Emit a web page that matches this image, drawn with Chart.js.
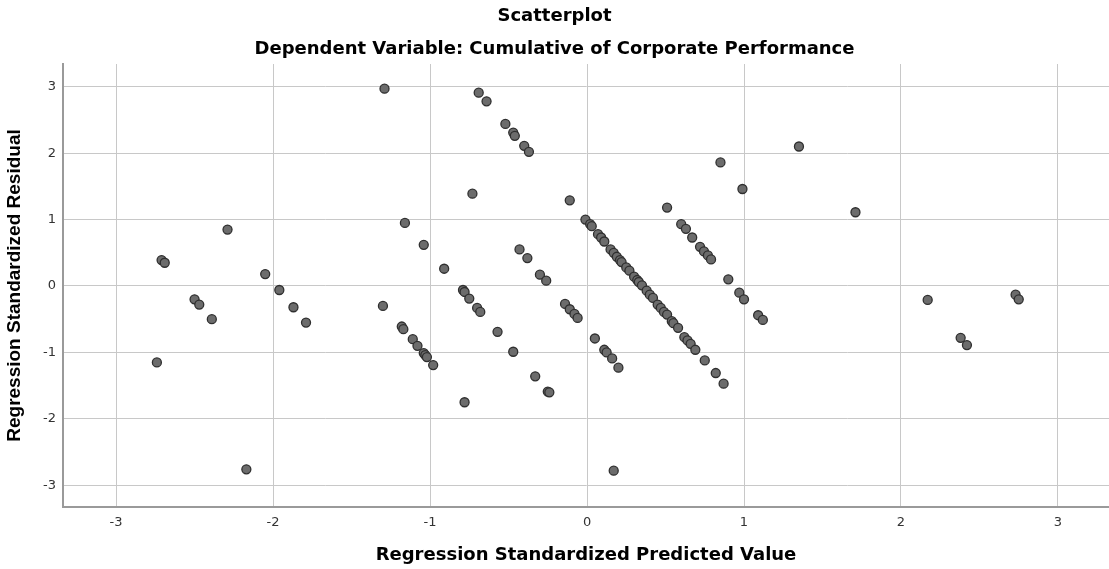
<!DOCTYPE html>
<html>
<head>
<meta charset="utf-8">
<title>Scatterplot</title>
<script src="https://cdn.jsdelivr.net/npm/chart.js@4/dist/chart.umd.min.js"></script>
<style>
    html, body { margin: 0; padding: 0; background: #fff; }
    #wrap { width: 1109px; height: 569px; }
</style>
</head>
<body>
<div id="wrap"><canvas id="scatter" width="1109" height="569"></canvas></div>
<script>
// regression standardized predicted value (x) / standardized residual (y)
const predicted = [
    -2.74, -2.71, -2.69, -2.50, -2.47, -2.39, -2.29, -2.17, -2.05, -1.96,
    -1.87, -1.79, -1.29, -1.30, -1.18, -1.17, -1.16, -1.11, -1.08, -1.04,
    -1.04, -1.03, -1.02, -0.98, -0.91, -0.79, -0.78, -0.78, -0.75, -0.73,
    -0.70, -0.69, -0.68, -0.64, -0.57, -0.52, -0.47, -0.47, -0.46, -0.43,
    -0.40, -0.38, -0.37, -0.33, -0.30, -0.26, -0.25, -0.24, -0.14, -0.11,
    -0.11, -0.08, -0.06,
    -0.01, 0.02, 0.03, 0.05, 0.07, 0.09, 0.11, 0.11, 0.125, 0.15,
    0.16, 0.17, 0.17, 0.19, 0.20, 0.21, 0.22, 0.25, 0.27, 0.30,
    0.32, 0.33, 0.35, 0.38, 0.40, 0.42, 0.45, 0.47, 0.49, 0.51,
    0.51, 0.54, 0.55, 0.58, 0.60, 0.62, 0.63, 0.64, 0.66, 0.67,
    0.69, 0.72, 0.745, 0.75, 0.77, 0.79, 0.82, 0.85, 0.87, 0.90,
    0.97, 0.99, 1.00, 1.09, 1.12, 1.35, 1.71, 2.17, 2.38, 2.42,
    2.73, 2.75
];
const residual = [
    -1.15, 0.39, 0.35, -0.20, -0.28, -0.50, 0.85, -2.76, 0.18, -0.06,
    -0.32, -0.55, 2.97, -0.30, -0.61, -0.65, 0.95, -0.80, -0.90, 0.62,
    -1.01, -1.04, -1.07, -1.19, 0.26, -0.06, -0.09, -1.75, -0.19, 1.39,
    -0.33, 2.91, -0.39, 2.78, -0.69, 2.44, 2.31, -0.99, 2.26, 0.55,
    2.11, 0.42, 2.02, -1.36, 0.17, 0.08, -1.59, -1.60, -0.27, 1.29,
    -0.35, -0.42, -0.48,
    1.00, 0.93, 0.90, -0.79, 0.78, 0.73, 0.67, -0.96, -1.00, 0.55,
    -1.09, 0.50, -2.78, 0.44, -1.23, 0.39, 0.36, 0.28, 0.23, 0.14,
    0.09, 0.06, 0.01, -0.07, -0.13, -0.18, -0.28, -0.33, -0.39, -0.43,
    1.18, -0.53, -0.56, -0.63, 0.93, -0.77, 0.86, -0.82, -0.87, 0.73,
    -0.96, 0.59, 0.52, -1.12, 0.46, 0.40, -1.31, 1.86, -1.47, 0.10,
    -0.10, 1.46, -0.20, -0.44, -0.51, 2.10, 1.11, -0.21, -0.78, -0.89,
    -0.13, -0.20
];
const xRange = [-3.338, 3.325];
const yRange = [-3.327, 3.342];

const titleText    = 'Scatterplot';
const subtitleText = 'Dependent Variable: Cumulative of Corporate Performance';
const xTitle       = 'Regression Standardized Predicted Value';
const yTitle       = 'Regression Standardized Residual';

const points = predicted.map((x, i) => ({ x: x, y: residual[i] }));

const gridColor = '#c8c8c8';
const axisColor = '#9a9a9a';
const tickFont  = { family: 'DejaVu Sans', size: 13 };

new Chart(document.getElementById('scatter').getContext('2d'), {
    type: 'scatter',
    data: {
        datasets: [{
            data: points,
            backgroundColor: '#6c6c6c',
            borderColor: '#2f2f2f',
            borderWidth: 1.3,
            pointRadius: 4.5,
            pointHoverRadius: 4.5,
        }]
    },
    options: {
        responsive: false,
        animation: false,
        devicePixelRatio: 1,
        layout: { padding: 0, autoPadding: false },
        plugins: {
            legend: { display: false },
            tooltip: { enabled: false },
            title: {
                display: true, text: titleText, color: '#000',
                font: { family: 'DejaVu Sans', size: 18, weight: 'bold' },
                padding: { top: 5.5, bottom: 11.1 },
            },
            subtitle: {
                display: true, text: subtitleText, color: '#000',
                font: { family: 'DejaVu Sans', size: 18, weight: 'bold' },
                padding: { top: 0, bottom: 4.2 },
            },
        },
        scales: {
            x: {
                type: 'linear', min: xRange[0], max: xRange[1],
                grid: { color: gridColor, lineWidth: 1, drawTicks: false },
                border: { display: true, color: axisColor, width: 2 },
                ticks: { stepSize: 1, includeBounds: false, color: '#333', font: tickFont, padding: 8 },
                title: {
                    display: true, text: xTitle, color: '#000',
                    font: { family: 'DejaVu Sans', size: 18, weight: 'bold' },
                    padding: { top: 0, bottom: 3 },
                },
                afterFit: s => { s.height = 62; s.paddingLeft = 0; s.paddingRight = 0; },
            },
            y: {
                type: 'linear', min: yRange[0], max: yRange[1],
                grid: { color: gridColor, lineWidth: 1, drawTicks: false },
                border: { display: true, color: axisColor, width: 2 },
                ticks: { stepSize: 1, includeBounds: false, color: '#333', font: tickFont, padding: 7 },
                title: {
                    display: true, text: yTitle, color: '#000',
                    font: { family: 'Liberation Sans', size: 19, weight: 'bold' },
                    padding: { top: 3.6, bottom: 0 },
                },
                afterFit: s => { s.width = 63; s.paddingTop = 0; s.paddingBottom = 0; },
            },
        },
    }
});
</script>
</body>
</html>
